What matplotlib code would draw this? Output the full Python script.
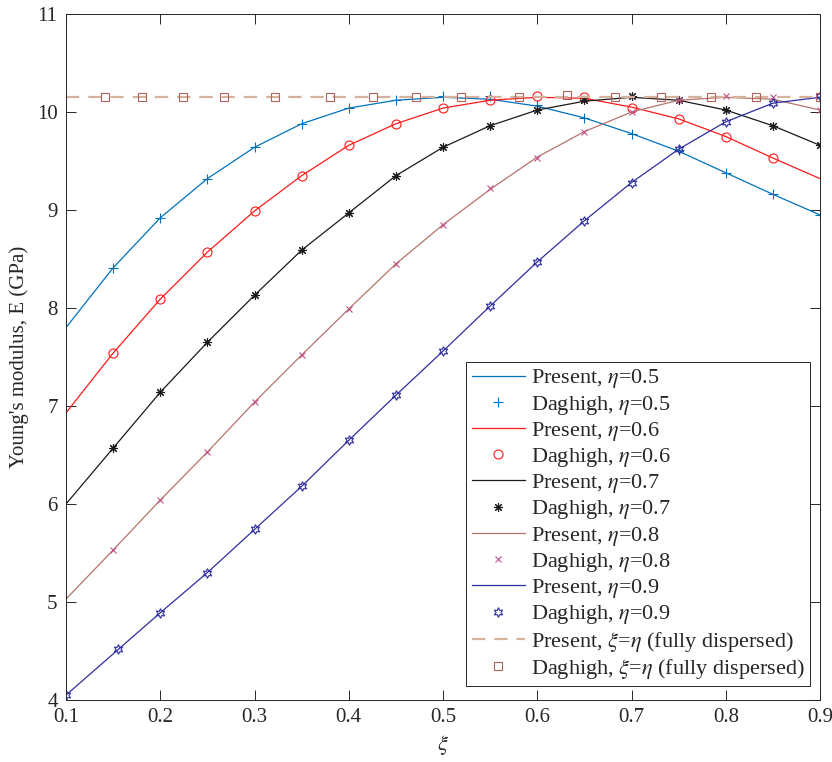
import matplotlib
matplotlib.use("Agg")
import matplotlib.pyplot as plt

plt.rcParams['font.family'] = ['Liberation Serif', 'DejaVu Serif']
plt.rcParams['mathtext.fontset'] = 'stix'

# ---- data ----
xi = [0.10, 0.15, 0.20, 0.25, 0.30, 0.35, 0.40, 0.45, 0.50,
      0.55, 0.60, 0.65, 0.70, 0.75, 0.80, 0.85, 0.90]

present_05 = [7.80, 8.41, 8.92, 9.32, 9.64, 9.88, 10.04, 10.12, 10.15,
              10.13, 10.06, 9.94, 9.78, 9.60, 9.38, 9.16, 8.95]
present_06 = [6.93, 7.54, 8.09, 8.57, 8.99, 9.35, 9.66, 9.88, 10.04,
              10.12, 10.15, 10.14, 10.05, 9.93, 9.75, 9.53, 9.32]
present_07 = [6.00, 6.57, 7.14, 7.65, 8.13, 8.59, 8.97, 9.35, 9.64,
              9.86, 10.02, 10.11, 10.15, 10.12, 10.02, 9.86, 9.66]
present_08 = [5.03, 5.53, 6.04, 6.53, 7.04, 7.52, 7.99, 8.45, 8.85,
              9.21, 9.54, 9.80, 10.00, 10.12, 10.15, 10.13, 10.02]
present_09 = [4.05, 4.47, 4.89, 5.30, 5.74, 6.18, 6.65, 7.11, 7.56,
              8.02, 8.47, 8.89, 9.28, 9.62, 9.90, 10.09, 10.15]

xi_d05 = [0.15, 0.20, 0.25, 0.30, 0.35, 0.40, 0.45, 0.50, 0.55,
          0.60, 0.65, 0.70, 0.75, 0.80, 0.85, 0.90]
dag_05 = [8.41, 8.92, 9.32, 9.64, 9.88, 10.04, 10.12, 10.16, 10.16,
          10.07, 9.94, 9.78, 9.61, 9.38, 9.16, 8.95]

xi_d06 = [0.15, 0.20, 0.25, 0.30, 0.35, 0.40, 0.45, 0.50, 0.55,
          0.60, 0.65, 0.70, 0.75, 0.80, 0.85]
dag_06 = [7.54, 8.09, 8.57, 8.99, 9.35, 9.66, 9.88, 10.04, 10.12,
          10.16, 10.15, 10.04, 9.93, 9.75, 9.53]

xi_d07 = [0.15, 0.20, 0.25, 0.30, 0.35, 0.40, 0.45, 0.50, 0.55,
          0.60, 0.65, 0.70, 0.75, 0.80, 0.85, 0.90]
dag_07 = [6.57, 7.14, 7.65, 8.13, 8.59, 8.97, 9.35, 9.64, 9.86,
          10.02, 10.12, 10.16, 10.12, 10.02, 9.86, 9.66]

xi_d08 = [0.15, 0.20, 0.25, 0.30, 0.35, 0.40, 0.45, 0.50, 0.55,
          0.60, 0.65, 0.70, 0.75, 0.80, 0.85, 0.90]
dag_08 = [5.53, 6.04, 6.53, 7.04, 7.52, 7.99, 8.45, 8.85, 9.22,
          9.53, 9.80, 10.00, 10.12, 10.16, 10.15, 10.02]

xi_d09 = [0.10, 0.155, 0.20, 0.25, 0.30, 0.35, 0.40, 0.45, 0.50,
          0.55, 0.60, 0.65, 0.70, 0.75, 0.80, 0.85, 0.90]
dag_09 = [4.05, 4.52, 4.89, 5.30, 5.74, 6.18, 6.65, 7.11, 7.56,
          8.02, 8.47, 8.89, 9.28, 9.62, 9.90, 10.09, 10.16]

xi_full = [0.10, 0.90]
present_full = [10.15, 10.15]
xi_dfull = [0.141, 0.181, 0.224, 0.268, 0.322, 0.380, 0.426, 0.471,
            0.519, 0.581, 0.632, 0.682, 0.731, 0.784, 0.832, 0.900]
dag_full = [10.15, 10.15, 10.15, 10.15, 10.15, 10.15, 10.15, 10.15,
            10.15, 10.15, 10.17, 10.15, 10.15, 10.15, 10.15, 10.15]

labels = [r'Present, $\eta$=0.5', r'Daghigh, $\eta$=0.5',
          r'Present, $\eta$=0.6', r'Daghigh, $\eta$=0.6',
          r'Present, $\eta$=0.7', r'Daghigh, $\eta$=0.7',
          r'Present, $\eta$=0.8', r'Daghigh, $\eta$=0.8',
          r'Present, $\eta$=0.9', r'Daghigh, $\eta$=0.9',
          r'Present, $\xi$=$\eta$ (fully dispersed)',
          r'Daghigh, $\xi$=$\eta$ (fully dispersed)']

# ---- figure ----
fig = plt.figure(figsize=(8.32, 7.62), dpi=100)
ax = fig.add_axes([66/832, 62/762, (820-66)/832, (700-14)/762])

c05 = '#0072BD'
c06 = '#FF1A1A'
c07 = '#1A1A1A'
c08l = '#B5736B'
c08m = '#C0508A'
c09 = '#2E2E9E'
cfl = '#D4B29E'
cfm = '#B0625A'

lw = 0.9
ms = 6.5
mew = 0.8

ax.plot(xi, present_05, '-', color=c05, lw=lw, label=labels[0])
ax.plot(xi_d05, dag_05, '+', color=c05, ms=ms + 1, mew=mew, ls='none', label=labels[1])
ax.plot(xi, present_06, '-', color=c06, lw=lw, label=labels[2])
ax.plot(xi_d06, dag_06, 'o', color=c06, mfc='none', ms=ms, mew=mew, ls='none', label=labels[3])
ax.plot(xi, present_07, '-', color=c07, lw=lw, label=labels[4])
ax.plot(xi_d07, dag_07, marker=(8, 2, 0), color=c07, ms=ms, mew=mew, ls='none',
        label=labels[5])
ax.plot(xi, present_08, '-', color=c08l, lw=lw, label=labels[6])
ax.plot(xi_d08, dag_08, 'x', color=c08m, ms=ms - 1.5, mew=mew, ls='none', label=labels[7])
ax.plot(xi, present_09, '-', color=c09, lw=lw, label=labels[8])
ax.plot(xi_d09, dag_09, marker=(6, 1, 0), color=c09, mfc='none', ms=ms + 0.5, mew=mew,
        ls='none', label=labels[9])
ax.plot(xi_full, present_full, '--', color=cfl, lw=1.6, dashes=(6, 4), label=labels[10])
ax.plot(xi_dfull, dag_full, 's', color=cfm, mfc='none', ms=ms - 1, mew=mew, ls='none',
        label=labels[11])

ax.set_xlim(0.1, 0.9)
ax.set_ylim(4, 11)
ax.set_xticks([0.1, 0.2, 0.3, 0.4, 0.5, 0.6, 0.7, 0.8, 0.9])
ax.set_xticklabels(['0.1', '0.2', '0.3', '0.4', '0.5', '0.6', '0.7', '0.8', '0.9'])
ax.set_yticks([4, 5, 6, 7, 8, 9, 10, 11])

axc = '#262626'
for s in ax.spines.values():
    s.set_color(axc)
    s.set_linewidth(0.7)
ax.tick_params(direction='in', length=7, width=0.7, colors=axc,
               top=True, right=True, labelsize=15, pad=6)
for t in ax.get_xticklabels() + ax.get_yticklabels():
    t.set_color(axc)

ax.set_xlabel(r'$\xi$', fontsize=16, color=axc, labelpad=4)
ax.set_ylabel("Young's modulus, E (GPa)", fontsize=15, color=axc, labelpad=6)

leg = ax.legend(loc='lower right', bbox_to_anchor=(0.987, 0.02), fontsize=16,
                frameon=True, fancybox=False, framealpha=1, edgecolor=axc,
                handlelength=2.4, handletextpad=0.25, labelspacing=0.145,
                borderpad=0.25, borderaxespad=0)
leg.get_frame().set_linewidth(0.7)
for t in leg.get_texts():
    t.set_color(axc)

fig.savefig('out.png', dpi=100)
